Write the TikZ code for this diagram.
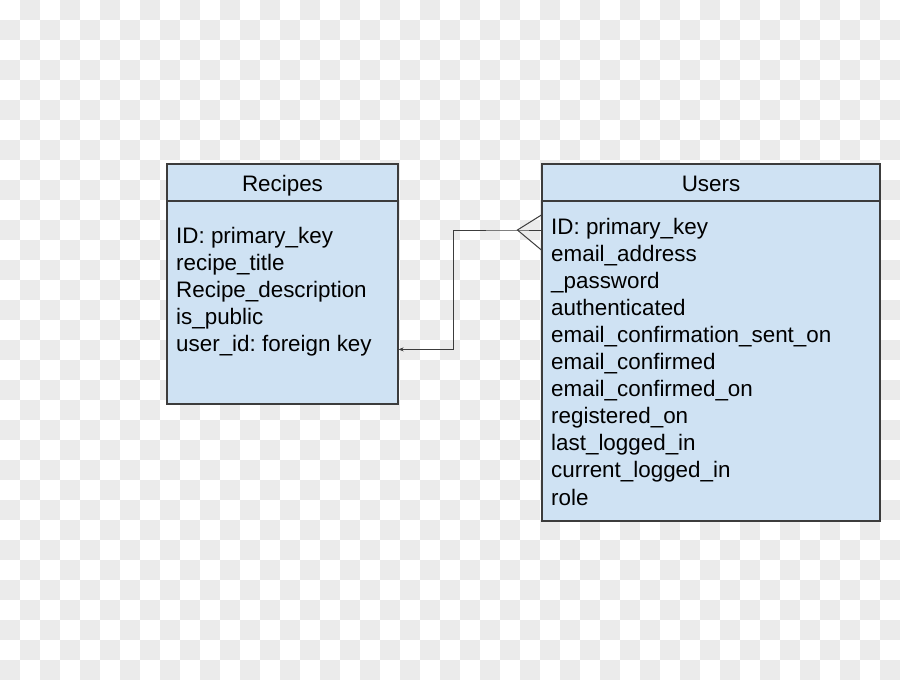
\documentclass[tikz,border=0pt]{standalone}
\usepackage{xcolor}
\usepackage{fontspec}
\setmainfont{Liberation Sans}
\usepackage{tikz}
\usetikzlibrary{arrows.meta,positioning,calc}
\definecolor{tablefill}{RGB}{207,226,243}
\definecolor{tableline}{RGB}{60,60,60}
\definecolor{checker}{RGB}{235,235,235}
\frenchspacing

\begin{document}
\begin{tikzpicture}[
    x=1pt, y=-1pt,
    table/.style={rectangle, draw=tableline, line width=1.2pt, fill=tablefill, inner sep=0pt},
    title/.style={anchor=base, font=\fontsize{22.4}{27}\selectfont, inner sep=0pt},
    field/.style={anchor=base west, font=\fontsize{22.4}{27}\selectfont, inner sep=0pt},
    link/.style={draw=tableline, line width=1pt}
]
    \useasboundingbox (0,0) rectangle (900,680);
    % checkered background
    \foreach \i in {0,...,44}{
        \foreach \j in {0,...,33}{
            \ifodd\numexpr\i+\j\relax
                \fill[checker] (20*\i,20*\j) rectangle ++(20,20);
            \fi
        }
    }

    % tables
    \node[table, minimum width=231pt, minimum height=240pt] (recipes) at (282.5,284) {};
    \node[table, minimum width=338pt, minimum height=357pt] (users) at (711,342.5) {};
    \draw[link, line width=1.2pt] (recipes.west |- 0,201) -- (recipes.east |- 0,201);
    \draw[link, line width=1.2pt] (users.west |- 0,201) -- (users.east |- 0,201);

    \node[title] (rtitle) at (282.5,191) {Recipes};
    \node[title] (utitle) at (711,191) {Users};

    % fields
    \foreach \f [count=\i] in {ID: primary\_key, recipe\_title, Recipe\_description, is\_public, user\_id: foreign key}
        \node[field] (r\i) at (176,215.9+27.1*\i) {\f};
    \foreach \f [count=\i] in {ID: primary\_key, email\_address, \_password, authenticated,
            email\_confirmation\_sent\_on, email\_confirmed, email\_confirmed\_on,
            registered\_on, last\_logged\_in, current\_logged\_in, role}
        \node[field] (u\i) at (551,206.9+27.1*\i) {\f};

    % relation
    \coordinate (foot) at ($(users.west |- u1.base)+(-24,-4)$);
    \draw[link] ($(users.west |- u1.base)+(0,-19)$) -- (foot) -- ($(users.west |- u1.base)+(0,16)$);
    \draw[link, -{Stealth[length=5pt,width=4pt]}] ($(users.west |- u1.base)+(0,-4)$) -- (foot)
        -- ($(foot)+(-64,0)$) |- ($(recipes.east |- r5.base)+(0,-2)$);
\end{tikzpicture}
\end{document}
